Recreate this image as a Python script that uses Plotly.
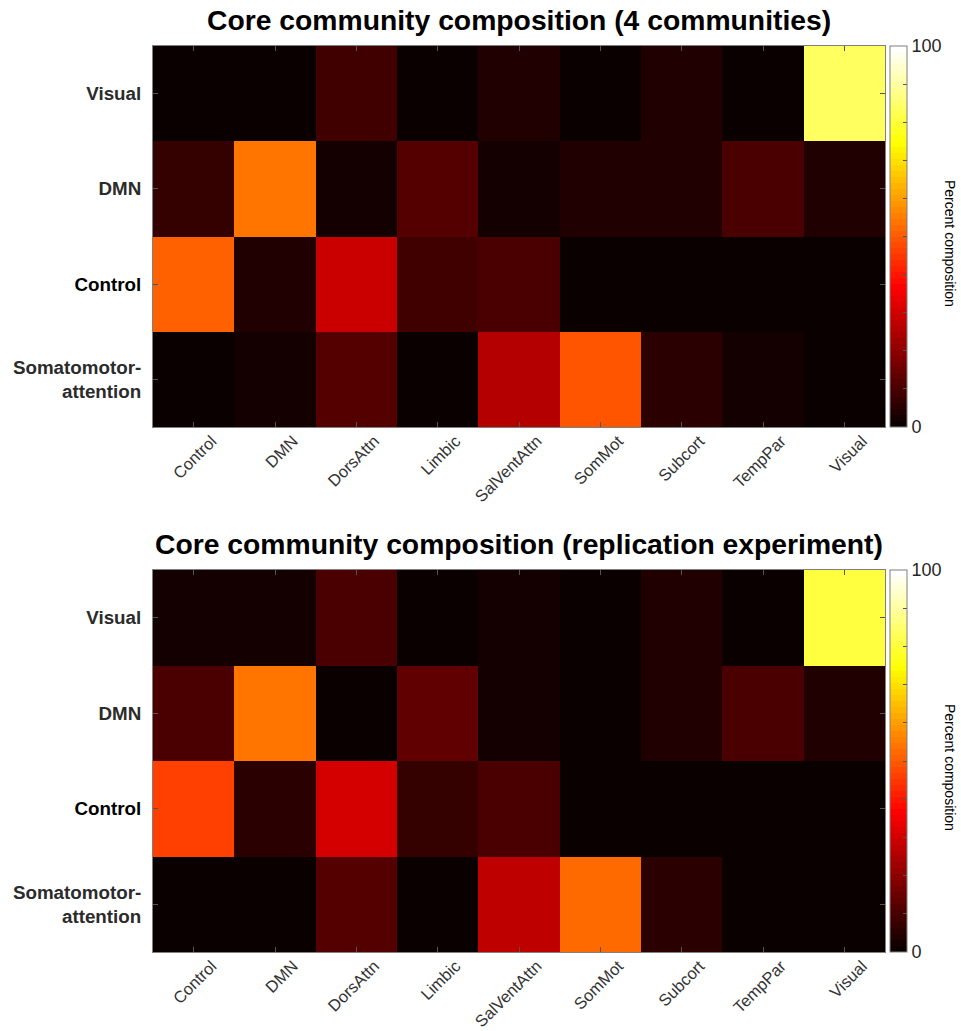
import plotly.graph_objects as go

# Network labels
networks = ["Control", "DMN", "DorsAttn", "Limbic", "SalVentAttn",
            "SomMot", "Subcort", "TempPar", "Visual"]
# Core communities, listed top to bottom
communities = ["Visual", "DMN", "Control", "Somatomotor-<br>attention"]
community_colors = ["#2b2b2b", "#2b2b2b", "#000000", "#2b2b2b"]

# Percent composition of each core community (rows) by network (columns)
comp_main_visual = [0.5, 0.5, 8.5, 0.5, 3.5, 0.5, 3.5, 0.5, 84.0]
comp_main_dmn = [7.0, 53.9, 2.0, 11.7, 2.2, 3.5, 3.5, 10.2, 3.9]
comp_main_control = [50.8, 3.5, 29.0, 8.5, 10.0, 0.5, 0.5, 0.5, 0.5]
comp_main_somatt = [0.5, 3.0, 12.0, 0.5, 25.8, 49.2, 5.4, 2.2, 0.5]

comp_rep_visual = [2.0, 2.0, 10.0, 0.5, 2.0, 0.5, 3.5, 0.5, 80.5]
comp_rep_dmn = [10.0, 53.5, 0.5, 13.0, 2.0, 0.5, 3.5, 10.0, 3.5]
comp_rep_control = [46.1, 5.4, 30.5, 6.5, 10.0, 0.5, 0.5, 0.5, 0.5]
comp_rep_somatt = [0.5, 0.5, 11.5, 0.5, 27.3, 52.8, 5.4, 0.5, 0.5]

cbar_ticks = [0, 10, 20, 30, 40, 50, 60, 70, 80, 90, 100]
cbar_ticktext = ["0", "", "", "", "", "", "", "", "", "", "100"]

titles = ["Core community composition (4 communities)",
          "Core community composition (replication experiment)"]
cbar_label = "Percent composition"


def hot_scale(m=64):
    """Discrete 'hot' colour map (black-red-yellow-white) with m levels."""
    n = int(3 * m / 8)
    cols = []
    for i in range(1, m + 1):
        r = min(i / n, 1.0)
        g = 0.0 if i <= n else min((i - n) / n, 1.0)
        b = 0.0 if i <= 2 * n else (i - 2 * n) / (m - 2 * n)
        cols.append("rgb(%d,%d,%d)" % (round(r * 255), round(g * 255), round(b * 255)))
    scale = []
    for i, c in enumerate(cols):
        scale.append([i / m, c])
        scale.append([(i + 1) / m, c])
    return scale


W, H = 961, 1031
HOT = hot_scale()
FONT = "Liberation Sans, Arial, sans-serif"
TXT = "#262626"

px_left, px_right = 153, 885
panels = [(46, 427), (570, 952)]  # pixel top/bottom of each plot area


def ydom(top, bottom):
    return [1 - bottom / H, 1 - top / H]


fig = go.Figure()
fig.add_trace(go.Heatmap(
    z=[comp_main_visual, comp_main_dmn, comp_main_control, comp_main_somatt],
    x=networks, y=communities, coloraxis="coloraxis",
    xaxis="x", yaxis="y", hoverongaps=False))
fig.add_trace(go.Heatmap(
    z=[comp_rep_visual, comp_rep_dmn, comp_rep_control, comp_rep_somatt],
    x=networks, y=communities, coloraxis="coloraxis2",
    xaxis="x2", yaxis="y2", hoverongaps=False))

ylabels = ["<span style='color:%s'>%s</span>" % (c, t)
           for t, c in zip(communities, community_colors)]

xdom = [px_left / W, px_right / W]
xaxis_style = dict(
    domain=xdom, showline=True, linecolor="#7f7f7f", linewidth=1, mirror="ticks",
    ticks="inside", ticklen=5, tickcolor="#555555", tickangle=-45,
    tickfont=dict(family=FONT, size=16.5, color="#333333"),
    ticklabelshift=18, ticklabelstandoff=-3, showgrid=False, zeroline=False,
    fixedrange=True)
yaxis_style = dict(
    showline=True, linecolor="#7f7f7f", linewidth=1, mirror="ticks",
    ticks="inside", ticklen=5, tickcolor="#555555", autorange="reversed",
    tickmode="array", tickvals=communities, ticktext=ylabels,
    tickfont=dict(family=FONT, size=18.8, color=TXT, weight="bold"),
    ticklabelstandoff=7, showgrid=False, zeroline=False, fixedrange=True)

fig.update_layout(
    xaxis=dict(xaxis_style, anchor="y"),
    yaxis=dict(yaxis_style, domain=ydom(*panels[0]), anchor="x"),
    xaxis2=dict(xaxis_style, anchor="y2"),
    yaxis2=dict(yaxis_style, domain=ydom(*panels[1]), anchor="x2"),
)


def cbar(top, bottom):
    return dict(
        x=890 / W, xanchor="left", xpad=0, ypad=0,
        y=1 - (top + bottom) / 2 / H, yanchor="middle",
        len=(bottom - top) / H, lenmode="fraction",
        thickness=17, thicknessmode="pixels",
        outlinecolor="#7f7f7f", outlinewidth=1,
        ticks="inside", ticklen=4, tickcolor="#555555",
        tickvals=cbar_ticks, ticktext=cbar_ticktext,
        tickfont=dict(family=FONT, size=18, color=TXT))


fig.update_layout(
    coloraxis=dict(colorscale=HOT, cmin=0, cmax=100, colorbar=cbar(*panels[0])),
    coloraxis2=dict(colorscale=HOT, cmin=0, cmax=100, colorbar=cbar(*panels[1])),
)

annotations = []
for (top, bottom), title_text in zip(panels, titles):
    annotations.append(dict(
        text="<b>%s</b>" % title_text, xref="paper", yref="paper",
        x=(px_left + px_right) / 2 / W, y=1 - (top - 26) / H,
        xanchor="center", yanchor="middle", showarrow=False,
        font=dict(family=FONT, size=28.3, color="#000000")))
    annotations.append(dict(
        text=cbar_label, xref="paper", yref="paper",
        x=950 / W, y=1 - (top + 197) / H, textangle=90,
        xanchor="center", yanchor="middle", showarrow=False,
        font=dict(family=FONT, size=14, color="#000000")))

fig.update_layout(
    width=W, height=H, margin=dict(l=0, r=0, t=0, b=0),
    paper_bgcolor="white", plot_bgcolor="white",
    annotations=annotations, showlegend=False)

fig.write_html("out.html")
